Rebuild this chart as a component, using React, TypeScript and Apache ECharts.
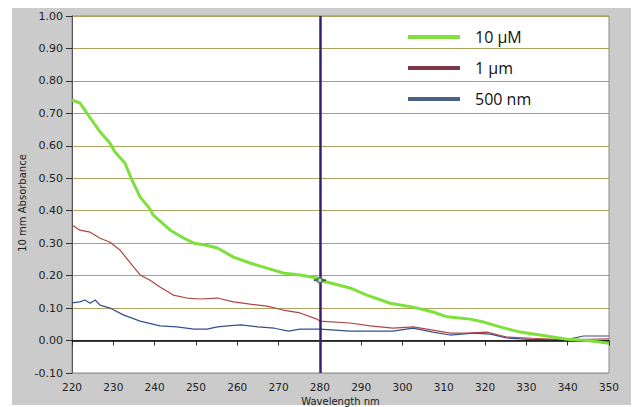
import React, { useEffect, useRef } from "react";
import * as echarts from "echarts";

const xTicks = [220, 230, 240, 250, 260, 270, 280, 290, 300, 310, 320, 330, 340, 350];
const yTicks = [-0.1, 0, 0.1, 0.2, 0.3, 0.4, 0.5, 0.6, 0.7, 0.8, 0.9, 1.0];

const seriesNames = ["10 µM", "1 µm", "500 nm"];

const green10uM: [number, number][] = [
  [220, 0.741], [221.9, 0.732], [224.4, 0.686], [226.8, 0.643], [229.2, 0.608],
  [230.4, 0.581], [232.8, 0.547], [234.5, 0.495], [236.5, 0.442], [238.9, 0.405],
  [239.6, 0.387], [243.8, 0.34], [247, 0.316], [249.5, 0.3], [252, 0.295],
  [255.2, 0.285], [259.1, 0.257], [263.1, 0.239], [267.2, 0.223], [271.1, 0.208],
  [275.2, 0.202], [279.3, 0.193], [280, 0.186], [287.3, 0.162], [291.4, 0.14],
  [297, 0.115], [302.6, 0.103], [307.4, 0.088], [310.8, 0.073], [316.4, 0.066],
  [319.6, 0.057], [323.6, 0.042], [328.5, 0.026], [333.3, 0.017], [339.8, 0.004],
  [344.7, 0.0], [350, -0.008],
];

const red1um: [number, number][] = [
  [220, 0.356], [221.9, 0.34], [224.4, 0.334], [226.8, 0.315], [229.2, 0.303],
  [231.6, 0.279], [234.1, 0.239], [236.5, 0.202], [238.9, 0.186], [241.3, 0.165],
  [244.5, 0.14], [247.8, 0.131], [251, 0.128], [255.2, 0.131], [259.1, 0.119],
  [263.1, 0.112], [267.2, 0.106], [271.1, 0.094], [275.2, 0.085], [279.3, 0.066],
  [280, 0.06], [287.3, 0.054], [292.2, 0.045], [297.7, 0.038], [302.6, 0.042],
  [307.4, 0.032], [311.5, 0.023], [315.6, 0.023], [320.4, 0.026], [325.2, 0.011],
  [331.5, 0.007], [339.8, 0.002], [345, 0.004], [350, 0.005],
];

const blue500nm: [number, number][] = [
  [220, 0.116], [221.9, 0.119], [223.1, 0.125], [224.4, 0.115], [225.6, 0.125],
  [226.8, 0.109], [229.2, 0.1], [232.4, 0.079], [236.5, 0.06], [241.3, 0.045],
  [245.4, 0.042], [249.5, 0.035], [252.7, 0.035], [255.2, 0.042], [257.7, 0.045],
  [260.9, 0.048], [265, 0.042], [269, 0.038], [272.4, 0.029], [275.2, 0.035],
  [279.3, 0.035], [280, 0.035], [287.3, 0.029], [297.7, 0.029], [302.6, 0.038],
  [307.4, 0.026], [311.5, 0.017], [317.3, 0.023], [321.3, 0.02], [325.2, 0.008],
  [331.5, 0.003], [339.8, 0.003], [343.8, 0.014], [350, 0.014],
];

const cursorWavelength = 280;
const cursorPoint: [number, number] = [280, 0.186];

export default function App() {
  const ref = useRef<HTMLDivElement>(null);
  useEffect(() => {
    if (!ref.current) return;
    const chart = echarts.init(ref.current, undefined, { renderer: "svg" });
    const tickFont = "DejaVu Sans";
    chart.setOption({
      animation: false,
      backgroundColor: "#ffffff",
      graphic: [
        {
          type: "rect",
          z: -10,
          shape: { x: 12, y: 8, width: 619, height: 397 },
          style: { fill: "#cbcbcb" },
        },
        {
          type: "text",
          x: 22,
          y: 203,
          rotation: Math.PI / 2,
          style: {
            text: "10 mm Absorbance",
            fontFamily: tickFont,
            fontSize: 10,
            fill: "#222",
            align: "center",
            verticalAlign: "middle",
          },
        },
      ],
      grid: {
        left: 72,
        top: 16,
        width: 537,
        height: 357,
        outerBoundsMode: "none",
        containLabel: false,
        show: true,
        backgroundColor: "#ffffff",
        borderColor: "#8a8a8a",
        borderWidth: 1,
      },
      legend: {
        orient: "vertical",
        left: 408,
        top: 29,
        padding: 0,
        itemWidth: 52,
        itemHeight: 4,
        itemGap: 15,
        icon: "rect",
        data: seriesNames,
        textStyle: {
          fontFamily: "Open Sans",
          fontSize: 16,
          color: "#111",
          padding: [0, 0, 0, 10],
        },
      },
      xAxis: {
        type: "value",
        min: xTicks[0],
        max: xTicks[xTicks.length - 1],
        interval: 10,
        name: "Wavelength nm",
        nameLocation: "middle",
        nameGap: 21,
        nameTextStyle: { fontFamily: tickFont, fontSize: 10, color: "#222" },
        axisLine: { show: true, lineStyle: { color: "#8a8a8a" } },
        axisTick: { show: true, length: 5, lineStyle: { color: "#333" } },
        axisLabel: { fontFamily: tickFont, fontSize: 10.5, color: "#222", margin: 8 },
        splitLine: { show: false },
      },
      yAxis: {
        type: "value",
        min: yTicks[0],
        max: yTicks[yTicks.length - 1],
        interval: 0.1,
        axisLine: { show: true, lineStyle: { color: "#555" } },
        axisTick: { show: true, length: 6, lineStyle: { color: "#333" } },
        axisLabel: {
          fontFamily: tickFont,
          fontSize: 11,
          color: "#222",
          margin: 9,
          formatter: (v: number) => v.toFixed(2),
        },
        splitLine: { show: true, lineStyle: { color: "#ada460", width: 1.2 } },
      },
      series: [
        {
          name: seriesNames[2],
          type: "line",
          data: blue500nm,
          showSymbol: false,
          color: "#4a6284",
          lineStyle: { color: "#34508a", width: 1.2 },
          z: 3,
          markLine: {
            silent: true,
            symbol: "none",
            label: { show: false },
            data: [
              { yAxis: 0, lineStyle: { color: "#000", width: 1.5, type: "solid" } },
              { xAxis: cursorWavelength, lineStyle: { color: "#3c1e6e", width: 2.5, type: "solid" } },
            ],
          },
        },
        {
          name: seriesNames[1],
          type: "line",
          data: red1um,
          showSymbol: false,
          color: "#7a3848",
          lineStyle: { color: "#b04444", width: 1.2 },
          z: 4,
        },
        {
          name: seriesNames[0],
          type: "line",
          data: green10uM,
          showSymbol: false,
          color: "#84e03c",
          lineStyle: { color: "#7ee03a", width: 3 },
          z: 5,
        },
        {
          type: "scatter",
          data: [cursorPoint],
          symbol: "rect",
          symbolSize: [12, 2],
          itemStyle: { color: "#1a2a3a" },
          silent: true,
          z: 6,
        },
        {
          type: "scatter",
          data: [cursorPoint],
          symbol: "emptyCircle",
          symbolSize: 5,
          itemStyle: { color: "#4a6a5a", borderColor: "#4a6a5a", borderWidth: 1 },
          silent: true,
          z: 7,
        },
      ],
    });
    return () => chart.dispose();
  }, []);
  return (
    <div
      ref={ref}
      style={{ position: "fixed", left: 0, top: 0, width: 636, height: 407 }}
    />
  );
}
